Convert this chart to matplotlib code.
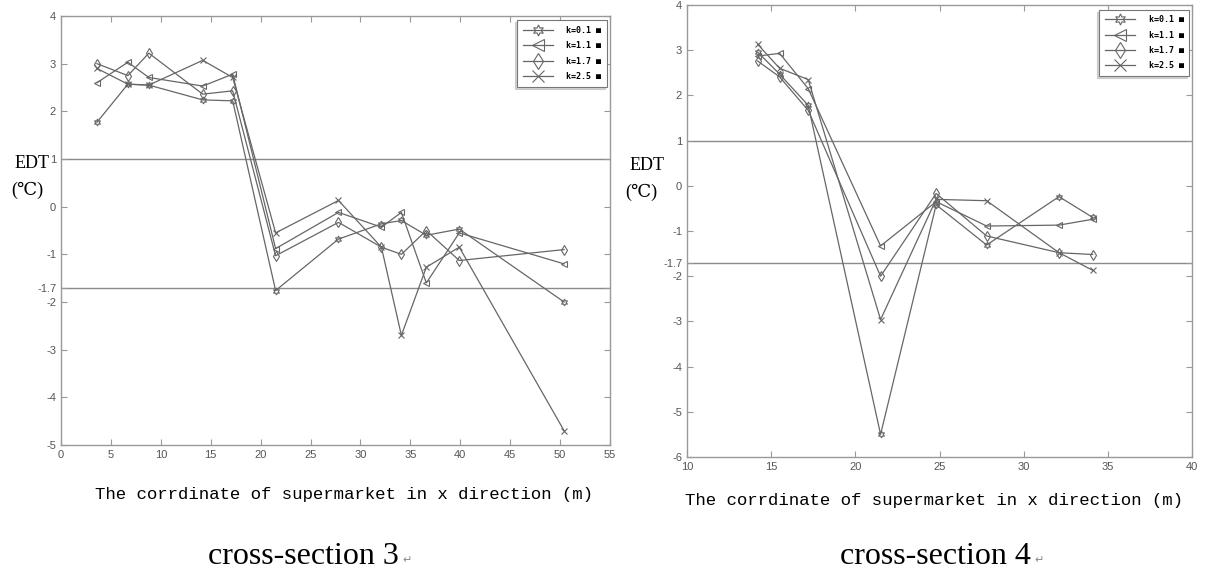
import numpy as np
import matplotlib.pyplot as plt

# cross-section 3
x3 = [3.6, 6.7, 8.8, 14.2, 17.2, 21.5, 27.8, 32.1, 34.1, 36.6, 39.9, 50.4]
k01_3 = [1.77, 2.57, 2.55, 2.24, 2.22, -1.76, -0.68, -0.36, -0.29, -0.60, -0.47, -2.00]
k11_3 = [2.60, 3.03, 2.71, 2.53, 2.78, -0.88, -0.12, -0.43, -0.12, -1.60, -0.55, -1.20]
k17_3 = [3.00, 2.75, 3.22, 2.36, 2.43, -1.03, -0.33, -0.85, -1.00, -0.50, -1.13, -0.90]
k25_3 = [2.90, 2.57, 2.55, 3.07, 2.71, -0.55, 0.13, -0.85, -2.70, -1.27, -0.85, -4.70]

# cross-section 4
x4 = [14.2, 15.5, 17.2, 21.5, 24.8, 27.8, 32.1, 34.1]
k01_4 = [2.96, 2.47, 1.78, -5.50, -0.42, -1.31, -0.24, -0.70]
k11_4 = [2.87, 2.93, 2.15, -1.33, -0.35, -0.89, -0.87, -0.74]
k17_4 = [2.76, 2.41, 1.67, -2.00, -0.17, -1.11, -1.48, -1.52]
k25_4 = [3.13, 2.60, 2.35, -2.96, -0.30, -0.33, -1.48, -1.87]

labels = ['k=0.1 ■', 'k=1.1 ■', 'k=1.7 ■', 'k=2.5 ■']
markers = [(6, 1, 0), '<', 'd', 'x']
xlabel = 'The corrdinate of supermarket in x direction (m)'

W, H = 1206, 577
fig = plt.figure(figsize=(W / 100, H / 100), dpi=100)
fig.patch.set_facecolor('white')

lc = '#666666'
axc = '#999999'


def px(x, y):
    return x / W, 1 - y / H


def panel(rect, xs, series, xlim, xticks, ylim, yticks):
    ax = fig.add_axes(rect)
    ax.axhline(1, color='#8a8a8a', lw=1.0, zorder=1)
    ax.axhline(-1.7, color='#8a8a8a', lw=1.0, zorder=1)
    for ys, m, lab in zip(series, markers, labels):
        ax.plot(xs, ys, color=lc, lw=0.9, marker=m, ms=5, mfc='none',
                mec=lc, mew=0.8, label=lab)
    ax.set_xlim(*xlim)
    ax.set_ylim(*ylim)
    ax.set_xticks(xticks)
    ax.set_yticks(yticks)
    ax.set_yticklabels([('%g' % t) for t in yticks])
    ax.tick_params(direction='in', length=4, top=True, right=True,
                   colors=axc, labelcolor='#555555', labelsize=8, width=0.8)
    for s in ax.spines.values():
        s.set_color(axc)
        s.set_linewidth(1.0)
    for t in ax.get_xticklabels() + ax.get_yticklabels():
        t.set_family('Liberation Sans')
    leg = ax.legend(loc='upper right', bbox_to_anchor=(0.995, 0.99),
                    borderaxespad=0, fancybox=False, edgecolor='#777777',
                    markerscale=1.6, handlelength=3.6, labelspacing=0.75,
                    borderpad=0.7, handletextpad=1.6,
                    prop={'family': 'DejaVu Sans Mono', 'weight': 'bold', 'size': 6},
                    shadow={'ox': -1.5, 'oy': -1.5, 'color': '#aaaaaa'})
    leg.get_frame().set_linewidth(0.8)
    return ax


r3 = (61 / W, 1 - 445 / H, 549 / W, 429 / H)
panel(r3, x3, [k01_3, k11_3, k17_3, k25_3], (0, 55), np.arange(0, 56, 5),
      (-5, 4), [-5, -4, -3, -2, -1.7, -1, 0, 1, 2, 3, 4])

r4 = (687 / W, 1 - 457 / H, 505 / W, 452 / H)
panel(r4, x4, [k01_4, k11_4, k17_4, k25_4], (10, 40), np.arange(10, 41, 5),
      (-6, 4), [-6, -5, -4, -3, -2, -1.7, -1, 0, 1, 2, 3, 4])

mono = ['Liberation Mono', 'DejaVu Sans Mono', 'DejaVu Sans']
serif = ['Liberation Serif', 'DejaVu Serif']

# y labels
fig.text(*px(32, 163), 'EDT', ha='center', va='center', family=serif, fontsize=13)
fig.text(*px(27, 190), '(℃)', ha='center', va='center', family=serif, fontsize=13)
fig.text(*px(647, 165), 'EDT', ha='center', va='center', family=serif, fontsize=13)
fig.text(*px(641, 192), '(℃)', ha='center', va='center', family=serif, fontsize=13)

# x labels
fig.text(*px(344, 495), xlabel, ha='center', va='center', family=mono, fontsize=12.5)
fig.text(*px(934, 500), xlabel, ha='center', va='center', family=mono, fontsize=12.5)

# captions
fig.text(*px(303, 556), 'cross-section 3', ha='center', va='center', family=serif, fontsize=23)
fig.text(*px(407, 560), '↵', ha='center', va='center', family='DejaVu Sans', fontsize=8, color='#888888')
fig.text(*px(935, 556), 'cross-section 4', ha='center', va='center', family=serif, fontsize=23)
fig.text(*px(1039, 560), '↵', ha='center', va='center', family='DejaVu Sans', fontsize=8, color='#888888')

fig.savefig('out.png', dpi=100, facecolor='white')
